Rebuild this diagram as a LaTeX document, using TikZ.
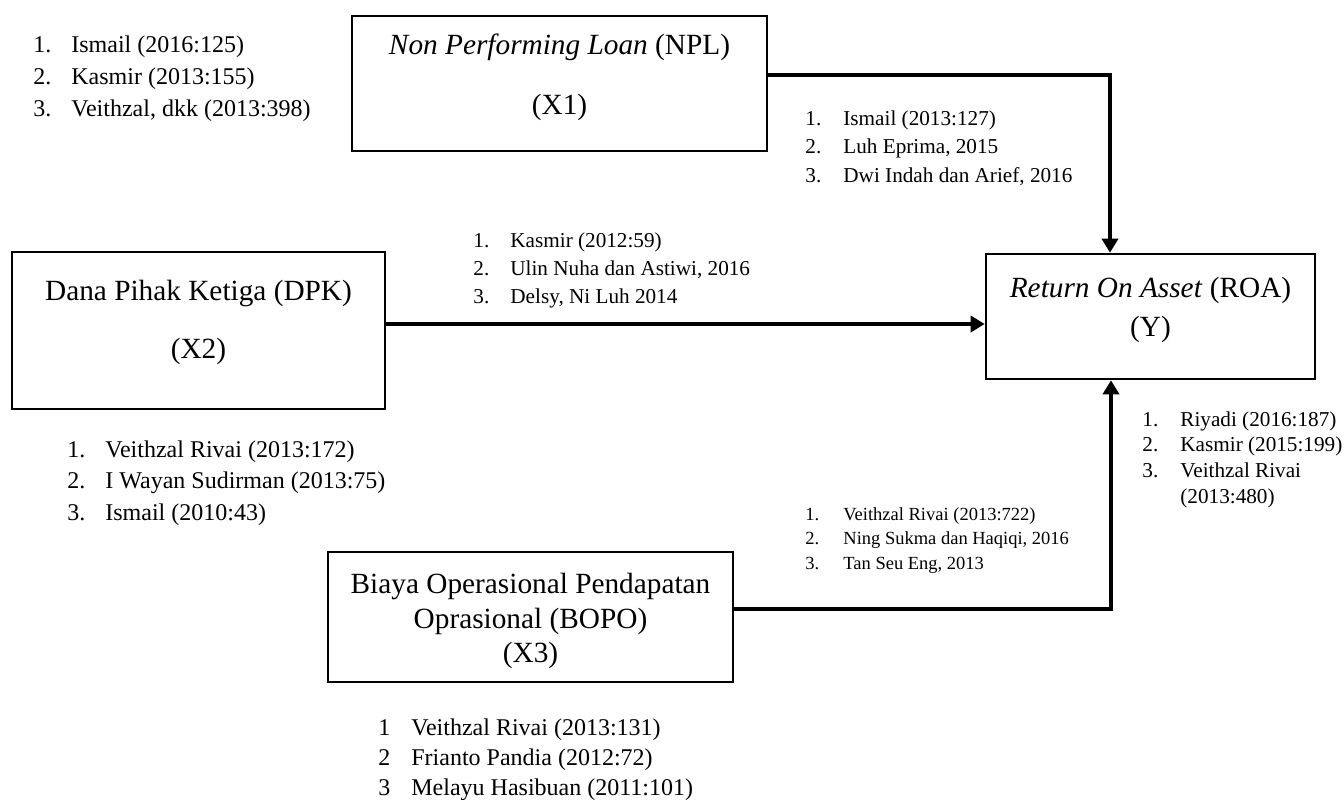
\documentclass[tikz,border=0pt]{standalone}
\usepackage{fontspec}
\setmainfont{Liberation Serif}
\usetikzlibrary{arrows.meta}

\newcommand{\reftab}[2]{\begin{tabular}[t]{@{}p{#1}@{}l@{}}#2\end{tabular}}

\begin{document}
\begin{tikzpicture}[x=0.5pt, y=-0.5pt,
		varbox/.style={draw, line width=1.3pt, align=center, inner sep=0pt, font=\fontsize{14.65}{17.6}\selectfont},
		link/.style={line width=2pt, -{Triangle[length=7pt,width=8pt]}},
		refs/.style={anchor=base west, inner sep=0pt}]
		
		\useasboundingbox (0,0) rectangle (1344,799);
		
		% --- Variables ---
		\node[varbox, minimum width=207.5pt, minimum height=67.5pt] (npl) at (559.5,83.5)
		{\textit{Non Performing Loan} (NPL)\\[12.4pt](X1)\rule[-9.6pt]{0pt}{9.6pt}};
		\node[varbox, minimum width=186.5pt, minimum height=78.5pt] (dpk) at (198.5,330.5)
		{Dana Pihak Ketiga (DPK)\\[11.4pt](X2)\rule[-11.6pt]{0pt}{11.6pt}};
		\node[varbox, minimum width=164.5pt, minimum height=62.5pt] (roa) at (1150.5,316.5)
		{\textit{Return On Asset} (ROA)\\[1.9pt](Y)\rule[-10.1pt]{0pt}{10.1pt}};
		\node[varbox, minimum width=202.5pt, minimum height=65pt, font=\fontsize{14.65}{17.25}\selectfont] (bopo) at (530.5,617)
		{\rule{0pt}{14.6pt}Biaya Operasional Pendapatan\\Oprasional (BOPO)\\(X3)};
		
		% --- Sources ---
		\node[refs, font=\fontsize{12}{16}\selectfont] (nplsrc) at (33,52)
		{\reftab{19pt}{1. & Ismail (2016:125)\\ 2. & Kasmir (2013:155)\\ 3. & Veithzal, dkk (2013:398)}};
		\node[refs, font=\fontsize{10.6}{14.25}\selectfont] (nplroa) at (805,125)
		{\reftab{19pt}{1. & Ismail (2013:127)\\ 2. & Luh Eprima, 2015\\ 3. & Dwi Indah dan Arief, 2016}};
		\node[refs, font=\fontsize{10.6}{14}\selectfont] (dpkroa) at (473,247)
		{\reftab{18.5pt}{1. & Kasmir (2012:59)\\ 2. & Ulin Nuha dan Astiwi, 2016\\ 3. & Delsy, Ni Luh 2014}};
		\node[refs, font=\fontsize{12}{15.75}\selectfont] (dpksrc) at (67,457)
		{\reftab{19pt}{1. & Veithzal Rivai (2013:172)\\ 2. & I Wayan Sudirman (2013:75)\\ 3. & Ismail (2010:43)}};
		\node[refs, font=\fontsize{9.25}{12.25}\selectfont] (boporoa) at (805,520)
		{\reftab{19pt}{1. & Veithzal Rivai (2013:722)\\ 2. & Ning Sukma dan Haqiqi, 2016\\ 3. & Tan Seu Eng, 2013}};
		\node[refs, font=\fontsize{10.6}{12.85}\selectfont] (roasrc) at (1142,426)
		{\reftab{19pt}{1. & Riyadi (2016:187)\\ 2. & Kasmir (2015:199)\\ 3. & Veithzal Rivai\\ & (2013:480)}};
		\node[refs, font=\fontsize{12}{15}\selectfont] (boposrc) at (378,735)
		{\reftab{16.5pt}{1 & Veithzal Rivai (2013:131)\\ 2 & Frianto Pandia (2012:72)\\ 3 & Melayu Hasibuan (2011:101)}};
		
		% --- Arrows ---
		\coordinate (topbend) at (1110,75);
		\coordinate (midrow) at (700,324);
		\coordinate (lowbend) at (1111,609);
		
		\draw[link] (npl.east |- topbend) -- (topbend) -- (topbend |- roa.north);
		\draw[link] (dpk.east |- midrow) -- (roa.west |- midrow);
		\draw[link] (bopo.east |- lowbend) -- (lowbend) -- (lowbend |- roa.south);
	\end{tikzpicture}
\end{document}
